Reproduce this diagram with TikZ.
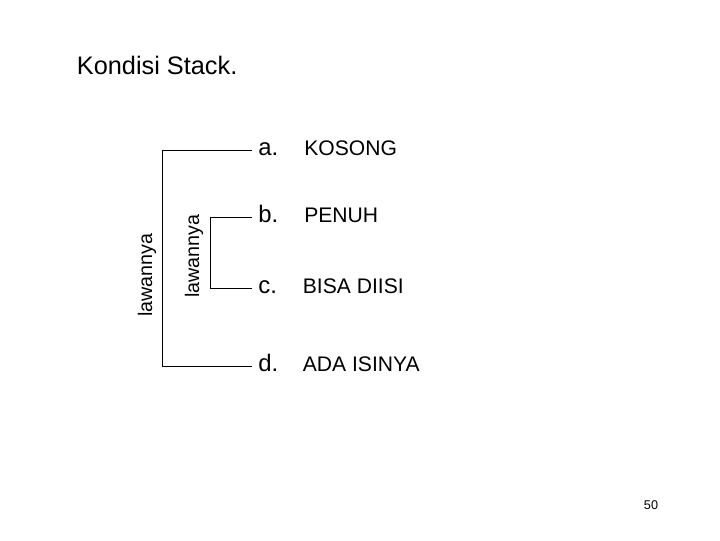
\documentclass[tikz,border=0pt]{standalone}
\usepackage{fontspec}
\setmainfont{Liberation Sans}
\usetikzlibrary{positioning}

\begin{document}
\begin{tikzpicture}[x=0.025cm, y=-0.025cm,
    letter/.style = {font=\fontsize{17}{20}\selectfont, inner sep=0pt,
                     outer xsep=4.5pt, text height=1.4ex, text depth=0pt, anchor=west},
    item/.style   = {font=\fontsize{15}{18}\selectfont, inner sep=0pt,
                     text height=1.4ex, text depth=0pt},
    side/.style   = {font=\fontsize{14}{16}\selectfont, rotate=90, inner sep=0pt},
    bracket/.style = {line width=0.6pt}]
      \useasboundingbox (0,0) rectangle (720,540);

      \node[anchor=base west, font=\fontsize{18}{22}\selectfont] (title) at (72,74) {Kondisi Stack.};

      \coordinate (outer) at (162,0);
      \coordinate (inner) at (210,0);

      \node[letter] (a) at (252,150) {a.};
      \node[letter] (b) at (252,217) {b.};
      \node[letter] (c) at (252,288) {c.};
      \node[letter] (d) at (252,366) {d.};

      \node[item, right=37pt of a.west] (ta) {KOSONG};
      \node[item, right=37pt of b.west] (tb) {PENUH};
      \node[item, right=36pt of c.west] (tc) {BISA DIISI};
      \node[item, right=36pt of d.west] (td) {ADA ISINYA};

      \draw[bracket] (a.west) -| (outer |- d.west) -- (d.west);
      \draw[bracket] (b.west) -| (inner |- c.west) -- (c.west);

      \node[side] (lo) at (147,275) {lawannya};
      \node[side] (li) at (194,256) {lawannya};

      \node[font=\fontsize{9}{11}\selectfont] (page) at (651,505) {50};
    \end{tikzpicture}
\end{document}
